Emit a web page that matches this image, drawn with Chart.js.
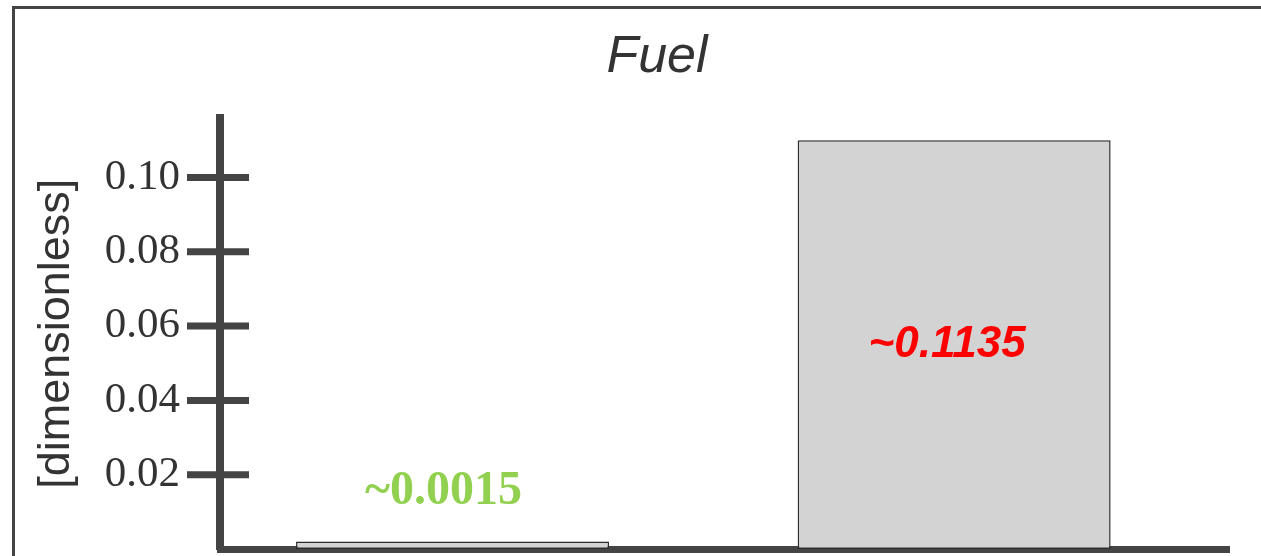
<!DOCTYPE html>
<html>
<head>
<meta charset="utf-8">
<script src="https://cdn.jsdelivr.net/npm/chart.js@4.4.0/dist/chart.umd.min.js"></script>
<style>
  html, body { margin: 0; padding: 0; background: #ffffff; overflow: hidden; }
  #wrap { width: 1261px; height: 556px; position: relative; }
</style>
</head>
<body>
<div id="wrap"><canvas id="c" width="1261" height="556"></canvas></div>
<script>
// ---- data ----
const categories = ['A', 'B'];
const fuelValues = [0.002, 0.11];
const valueLabels = ['~0.0015', '~0.1135'];
const yTickValues = [0.02, 0.04, 0.06, 0.08, 0.10];
const yTickLabels = ['0.02', '0.04', '0.06', '0.08', '0.10'];
const yMax = 0.1159;
const xIndex = categories.map((c, i) => i);

Chart.defaults.font.family = '"Liberation Sans", Arial, sans-serif';

const framePlugin = {
  id: 'frame',
  beforeDraw(chart) {
    const ctx = chart.ctx;
    ctx.save();
    ctx.strokeStyle = '#444444';
    ctx.lineWidth = 3;
    ctx.beginPath();
    ctx.moveTo(13.5, chart.height);
    ctx.lineTo(13.5, 7.5);
    ctx.lineTo(chart.width, 7.5);
    ctx.stroke();
    ctx.restore();
  }
};

const tickCrossPlugin = {
  id: 'tickCross',
  afterDraw(chart) {
    const ys = chart.scales.y;
    const L = chart.chartArea.left;
    const ctx = chart.ctx;
    ctx.save();
    ctx.strokeStyle = '#444444';
    ctx.lineWidth = 7;
    ys.ticks.forEach(t => {
      const py = ys.getPixelForValue(t.value);
      ctx.beginPath();
      ctx.moveTo(L - 33, py);
      ctx.lineTo(L + 29, py);
      ctx.stroke();
    });
    ctx.restore();
  }
};

const valueLabelPlugin = {
  id: 'valueLabels',
  afterDraw(chart, args, opts) {
    const ctx = chart.ctx;
    const meta = chart.getDatasetMeta(0);
    ctx.save();
    ctx.textAlign = 'center';
    ctx.textBaseline = 'middle';
    meta.data.forEach((bar, i) => {
      const st = opts.styles[i];
      ctx.font = st.font;
      ctx.fillStyle = st.color;
      const y = st.anchor === 'center' ? (bar.y + bar.base) / 2 : bar.y;
      ctx.fillText(valueLabels[i], bar.x + st.dx, y + st.dy);
    });
    ctx.restore();
  }
};

new Chart(document.getElementById('c').getContext('2d'), {
  type: 'bar',
  data: {
    datasets: [{
      label: 'Fuel',
      data: fuelValues.map((v, i) => ({ x: xIndex[i], y: v })),
      backgroundColor: '#d3d3d3',
      borderColor: '#2b2b2b',
      borderWidth: 1.5,
      borderSkipped: false,
      categoryPercentage: 1,
      barPercentage: 0.624
    }]
  },
  options: {
    responsive: false,
    animation: false,
    devicePixelRatio: 1,
    layout: { padding: { left: 85, right: 32, top: 0, bottom: 7 } },
    plugins: {
      legend: { display: false },
      tooltip: { enabled: false },
      title: {
        display: true,
        text: 'Fuel',
        color: '#333333',
        font: { size: 52, style: 'italic', weight: 'normal', lineHeight: 1.2 },
        padding: { top: 26, bottom: 30 }
      },
      valueLabels: {
        styles: [
          { font: 'bold 48px "Liberation Serif", serif', color: '#92D050', anchor: 'top', dx: -9, dy: -50 },
          { font: 'italic bold 44px "Liberation Sans", Arial, sans-serif', color: '#FF0000', anchor: 'center', dx: -7, dy: 0 }
        ]
      }
    },
    scales: {
      x: {
        type: 'linear',
        min: -0.4636,
        max: 1.548,
        offset: false,
        z: 1,
        afterBuildTicks: s => { s.ticks = xIndex.map(v => ({ value: v })); },
        ticks: { display: false },
        grid: { display: false, drawTicks: false },
        border: { display: true, color: '#444444', width: 7 }
      },
      y: {
        type: 'linear',
        min: 0,
        max: yMax,
        z: 1,
        afterBuildTicks: s => { s.ticks = yTickValues.map(v => ({ value: v })); },
        afterFit: s => { s.width = 135; },
        ticks: {
          callback: (v, i) => yTickLabels[i],
          color: '#333333',
          padding: 0,
          font: { family: '"Liberation Serif", serif', size: 43, lineHeight: 0.3 }
        },
        grid: { display: false, drawTicks: true, tickLength: 40 },
        border: { display: true, color: '#444444', width: 8 },
        title: {
          display: true,
          text: '[dimensionless]',
          color: '#333333',
          font: { size: 45, lineHeight: 1.2 },
          padding: { top: -55, bottom: 0 }
        }
      }
    }
  },
  plugins: [framePlugin, tickCrossPlugin, valueLabelPlugin]
});
</script>
</body>
</html>
